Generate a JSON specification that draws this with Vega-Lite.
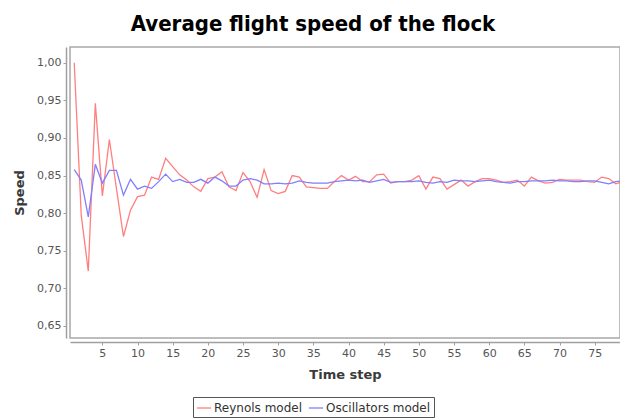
{
  "$schema": "https://vega.github.io/schema/vega-lite/v6.json",
  "width": 550,
  "height": 291,
  "autosize": "none",
  "padding": {"left": 70, "top": 47, "right": 0, "bottom": 80},
  "background": "white",
  "title": {
    "text": "Average flight speed of the flock",
    "font": "DejaVu Sans Condensed",
    "fontSize": 22,
    "fontWeight": "bold",
    "color": "#000000",
    "anchor": "middle",
    "frame": "group",
    "dx": -32,
    "offset": 11
  },
  "config": {
    "view": {"stroke": "#a8a8a8", "strokeWidth": 1.5},
    "axis": {
      "grid": false,
      "labelFont": "DejaVu Sans",
      "labelFontSize": 11,
      "labelColor": "#555555",
      "titleFont": "DejaVu Sans",
      "titleFontSize": 13,
      "titleFontWeight": "bold",
      "titleColor": "#3a3a3a",
      "domainColor": "#a0a0a0",
      "domainWidth": 1.5,
      "tickColor": "#a0a0a0",
      "tickSize": 3,
      "offset": 4
    }
  },
  "data": {
    "values": [
      {"t": 1, "Reynols model": 1.000, "Oscillators model": 0.858},
      {"t": 2, "Reynols model": 0.797, "Oscillators model": 0.844},
      {"t": 3, "Reynols model": 0.723, "Oscillators model": 0.795},
      {"t": 4, "Reynols model": 0.946, "Oscillators model": 0.865},
      {"t": 5, "Reynols model": 0.823, "Oscillators model": 0.840},
      {"t": 6, "Reynols model": 0.898, "Oscillators model": 0.857},
      {"t": 7, "Reynols model": 0.833, "Oscillators model": 0.857},
      {"t": 8, "Reynols model": 0.769, "Oscillators model": 0.824},
      {"t": 9, "Reynols model": 0.804, "Oscillators model": 0.845},
      {"t": 10, "Reynols model": 0.822, "Oscillators model": 0.832},
      {"t": 11, "Reynols model": 0.824, "Oscillators model": 0.836},
      {"t": 12, "Reynols model": 0.848, "Oscillators model": 0.833},
      {"t": 13, "Reynols model": 0.845, "Oscillators model": 0.842},
      {"t": 14, "Reynols model": 0.873, "Oscillators model": 0.852},
      {"t": 15, "Reynols model": 0.862, "Oscillators model": 0.842},
      {"t": 16, "Reynols model": 0.851, "Oscillators model": 0.845},
      {"t": 17, "Reynols model": 0.844, "Oscillators model": 0.841},
      {"t": 18, "Reynols model": 0.835, "Oscillators model": 0.841},
      {"t": 19, "Reynols model": 0.829, "Oscillators model": 0.845},
      {"t": 20, "Reynols model": 0.846, "Oscillators model": 0.840},
      {"t": 21, "Reynols model": 0.848, "Oscillators model": 0.848},
      {"t": 22, "Reynols model": 0.855, "Oscillators model": 0.843},
      {"t": 23, "Reynols model": 0.835, "Oscillators model": 0.836},
      {"t": 24, "Reynols model": 0.830, "Oscillators model": 0.836},
      {"t": 25, "Reynols model": 0.854, "Oscillators model": 0.844},
      {"t": 26, "Reynols model": 0.842, "Oscillators model": 0.846},
      {"t": 27, "Reynols model": 0.821, "Oscillators model": 0.844},
      {"t": 28, "Reynols model": 0.858, "Oscillators model": 0.839},
      {"t": 29, "Reynols model": 0.830, "Oscillators model": 0.839},
      {"t": 30, "Reynols model": 0.826, "Oscillators model": 0.840},
      {"t": 31, "Reynols model": 0.829, "Oscillators model": 0.839},
      {"t": 32, "Reynols model": 0.850, "Oscillators model": 0.840},
      {"t": 33, "Reynols model": 0.848, "Oscillators model": 0.843},
      {"t": 34, "Reynols model": 0.835, "Oscillators model": 0.841},
      {"t": 35, "Reynols model": 0.834, "Oscillators model": 0.840},
      {"t": 36, "Reynols model": 0.833, "Oscillators model": 0.840},
      {"t": 37, "Reynols model": 0.833, "Oscillators model": 0.840},
      {"t": 38, "Reynols model": 0.842, "Oscillators model": 0.842},
      {"t": 39, "Reynols model": 0.850, "Oscillators model": 0.843},
      {"t": 40, "Reynols model": 0.844, "Oscillators model": 0.844},
      {"t": 41, "Reynols model": 0.849, "Oscillators model": 0.843},
      {"t": 42, "Reynols model": 0.842, "Oscillators model": 0.844},
      {"t": 43, "Reynols model": 0.842, "Oscillators model": 0.841},
      {"t": 44, "Reynols model": 0.851, "Oscillators model": 0.843},
      {"t": 45, "Reynols model": 0.852, "Oscillators model": 0.845},
      {"t": 46, "Reynols model": 0.840, "Oscillators model": 0.841},
      {"t": 47, "Reynols model": 0.842, "Oscillators model": 0.842},
      {"t": 48, "Reynols model": 0.842, "Oscillators model": 0.842},
      {"t": 49, "Reynols model": 0.844, "Oscillators model": 0.842},
      {"t": 50, "Reynols model": 0.850, "Oscillators model": 0.843},
      {"t": 51, "Reynols model": 0.832, "Oscillators model": 0.841},
      {"t": 52, "Reynols model": 0.848, "Oscillators model": 0.840},
      {"t": 53, "Reynols model": 0.846, "Oscillators model": 0.842},
      {"t": 54, "Reynols model": 0.832, "Oscillators model": 0.841},
      {"t": 55, "Reynols model": 0.838, "Oscillators model": 0.844},
      {"t": 56, "Reynols model": 0.844, "Oscillators model": 0.843},
      {"t": 57, "Reynols model": 0.836, "Oscillators model": 0.843},
      {"t": 58, "Reynols model": 0.842, "Oscillators model": 0.842},
      {"t": 59, "Reynols model": 0.846, "Oscillators model": 0.843},
      {"t": 60, "Reynols model": 0.846, "Oscillators model": 0.844},
      {"t": 61, "Reynols model": 0.844, "Oscillators model": 0.842},
      {"t": 62, "Reynols model": 0.841, "Oscillators model": 0.841},
      {"t": 63, "Reynols model": 0.842, "Oscillators model": 0.840},
      {"t": 64, "Reynols model": 0.844, "Oscillators model": 0.842},
      {"t": 65, "Reynols model": 0.836, "Oscillators model": 0.842},
      {"t": 66, "Reynols model": 0.848, "Oscillators model": 0.843},
      {"t": 67, "Reynols model": 0.843, "Oscillators model": 0.843},
      {"t": 68, "Reynols model": 0.840, "Oscillators model": 0.843},
      {"t": 69, "Reynols model": 0.841, "Oscillators model": 0.844},
      {"t": 70, "Reynols model": 0.845, "Oscillators model": 0.843},
      {"t": 71, "Reynols model": 0.844, "Oscillators model": 0.843},
      {"t": 72, "Reynols model": 0.844, "Oscillators model": 0.842},
      {"t": 73, "Reynols model": 0.844, "Oscillators model": 0.842},
      {"t": 74, "Reynols model": 0.842, "Oscillators model": 0.843},
      {"t": 75, "Reynols model": 0.841, "Oscillators model": 0.843},
      {"t": 76, "Reynols model": 0.848, "Oscillators model": 0.841},
      {"t": 77, "Reynols model": 0.846, "Oscillators model": 0.839},
      {"t": 78, "Reynols model": 0.839, "Oscillators model": 0.842},
      {"t": 79, "Reynols model": 0.842, "Oscillators model": 0.843}
    ]
  },
  "transform": [
    {"fold": ["Reynols model", "Oscillators model"], "as": ["model", "speed"]}
  ],
  "mark": {"type": "line", "strokeWidth": 1.3, "clip": true},
  "encoding": {
    "x": {
      "field": "t",
      "type": "quantitative",
      "scale": {"domain": [0.4, 78.6], "nice": false, "zero": false},
      "axis": {"values": [5, 10, 15, 20, 25, 30, 35, 40, 45, 50, 55, 60, 65, 70, 75], "title": "Time step", "titlePadding": 10}
    },
    "y": {
      "field": "speed",
      "type": "quantitative",
      "scale": {"domain": [0.634, 1.021], "nice": false, "zero": false},
      "axis": {
        "values": [0.65, 0.7, 0.75, 0.8, 0.85, 0.9, 0.95, 1.0],
        "labelExpr": "replace(format(datum.value, '.2f'), '.', ',')",
        "title": "Speed",
        "titlePadding": 10
      }
    },
    "color": {
      "field": "model",
      "type": "nominal",
      "scale": {"domain": ["Reynols model", "Oscillators model"], "range": ["#ff7f7f", "#7f7fff"]},
      "legend": {
        "title": null,
        "orient": "none",
        "direction": "horizontal",
        "legendX": 123,
        "legendY": 350,
        "symbolType": "stroke",
        "symbolSize": 200,
        "symbolStrokeWidth": 1.3,
        "labelFont": "DejaVu Sans",
        "labelFontSize": 12,
        "labelColor": "#333333",
        "strokeColor": "#555555",
        "padding": 3,
        "columnPadding": 4,
        "labelOffset": 2
      }
    }
  }
}
